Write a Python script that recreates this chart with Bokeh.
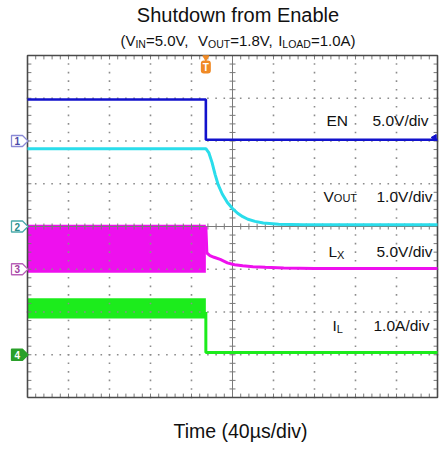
import numpy as np
from bokeh.plotting import figure
from bokeh.models import Range1d, BoxAnnotation
from bokeh.core.properties import value
from bokeh.embed import file_html
from bokeh.resources import INLINE

# ---------------- data read from the scope capture ----------------
# time axis: 10 divisions at 40 us/div (0 .. 400 us), 8 vertical divisions
t_edge = 174.0                                   # EN falling edge (us)

en_t = [0, 174, 174, 400]
en_v = [4.85, 4.85, 0.15, 0.15]                  # V   (5 V/div)

vout_t = [0, 174, 177, 180, 183, 186, 190, 195, 200, 205, 210, 215, 222, 230, 245, 270, 400]
vout_v = [1.82, 1.82, 1.72, 1.50, 1.22, 0.98, 0.76, 0.56, 0.42, 0.31, 0.23, 0.17, 0.12,
          0.08, 0.05, 0.04, 0.04]                # V   (1 V/div)

lx_band_t = [0, 174]
lx_band_lo = [-0.4, -0.4]                        # V   (5 V/div), switching envelope
lx_band_hi = [5.2, 5.2]
lx_t = [174, 175, 178, 182, 188, 195, 202, 210, 220, 232, 250, 280, 320, 400]
lx_v = [5.0, 1.9, 1.6, 1.4, 1.15, 0.75, 0.52, 0.40, 0.30, 0.22, 0.14, 0.10, 0.08, 0.08]

il_band_t = [0, 174]
il_band_lo = [0.85, 0.85]                        # A   (1 A/div), ripple envelope
il_band_hi = [1.32, 1.32]
il_t = [174, 174, 400]
il_v = [1.0, 0.05, 0.05]

# channel ground position (div from bottom) and units per division
ch_en = (6, 5.0)
ch_vout = (4, 1.0)
ch_lx = (3, 5.0)
ch_il = (1, 1.0)

title = "Shutdown from Enable"
xlabel = "Time (40\u00b5s/div)"

# ---------------- layout ----------------
W, H = 440, 446
FL, FR, FT, FB = 27, 437, 55, 397                 # scope frame in canvas px
XPX = (FR - FL) / 400.0
YPX = (FB - FT) / 8.0
FONT = "Liberation Sans"


def X(px):          # canvas px -> data x
    return (px - FL) / XPX


def Y(py):          # canvas px -> data y (div)
    return (FB - py) / YPX


def lv(vals, ch):
    off, sc = ch
    return [off + v / sc for v in vals]


p = figure(width=W, height=H, x_range=Range1d(-FL / XPX, (W - FL) / XPX),
           y_range=Range1d(-(H - FB) / YPX, 8 + FT / YPX),
           output_backend="svg", toolbar_location=None,
           x_axis_location=None, y_axis_location=None, min_border=0)
p.outline_line_color = None
p.xgrid.visible = False
p.ygrid.visible = False
p.background_fill_color = "white"

C_EN, C_VOUT, C_LX, C_IL = "#1212CC", "#2ADDEB", "#EE10EE", "#1CEC1C"

# switching envelopes
p.varea(x=lx_band_t, y1=lv(lx_band_lo, ch_lx), y2=lv(lx_band_hi, ch_lx), fill_color=C_LX)
p.varea(x=il_band_t, y1=lv(il_band_lo, ch_il), y2=lv(il_band_hi, ch_il), fill_color=C_IL)

# ---------------- graticule ----------------
divx = np.arange(0, 401, 40.0)
subx = np.arange(0, 400.01, 8.0)
divy = np.arange(0, 9, 1.0)
suby = np.arange(0, 8.001, 0.2)

dx, dy = [], []
for gx in divx[1:-1]:
    if gx == 200:
        continue
    dx += [gx] * len(suby)
    dy += list(suby)
for gy in divy[1:-1]:
    if gy == 4:
        continue
    dx += list(subx)
    dy += [gy] * len(subx)
p.scatter(dx, dy, marker="square", size=1.6, color="#8c8c8c", line_width=0)

GRAT = "#7a7a7a"
tx, ty = 3.0 / XPX, 3.0 / YPX
# center cross
p.segment(x0=[200], y0=[0], x1=[200], y1=[8], line_color=GRAT, line_width=1)
p.segment(x0=[0], y0=[4], x1=[400], y1=[4], line_color=GRAT, line_width=1)
p.segment(x0=[200 - tx] * len(suby), y0=list(suby), x1=[200 + tx] * len(suby), y1=list(suby),
          line_color=GRAT, line_width=1)
p.segment(x0=list(subx), y0=[4 - ty] * len(subx), x1=list(subx), y1=[4 + ty] * len(subx),
          line_color=GRAT, line_width=1)
# border ticks
p.segment(x0=[0] * len(suby), y0=list(suby), x1=[1.3 * tx] * len(suby), y1=list(suby),
          line_color=GRAT, line_width=1)
p.segment(x0=[400 - 1.3 * tx] * len(suby), y0=list(suby), x1=[400] * len(suby), y1=list(suby),
          line_color=GRAT, line_width=1)
p.segment(x0=list(subx), y0=[0] * len(subx), x1=list(subx), y1=[1.3 * ty] * len(subx),
          line_color=GRAT, line_width=1)
p.segment(x0=list(subx), y0=[8 - 1.3 * ty] * len(subx), x1=list(subx), y1=[8] * len(subx),
          line_color=GRAT, line_width=1)
# border
p.line([0, 400, 400, 0, 0], [0, 0, 8, 8, 0], line_color="#4a4a4a", line_width=1.6)

# ---------------- traces ----------------
p.line(lx_t, lv(lx_v, ch_lx), line_color=C_LX, line_width=3)
p.line(il_t, lv(il_v, ch_il), line_color=C_IL, line_width=3)
p.line(vout_t, lv(vout_v, ch_vout), line_color=C_VOUT, line_width=3)
p.line(en_t, lv(en_v, ch_en), line_color=C_EN, line_width=2.6)

# EN trigger-level arrow on right edge
p.scatter([X(434)], [Y(137)], marker="triangle", angle=np.pi / 2, size=6,
          color=C_EN)

# trigger position marker
ORANGE = "#F08A26"
p.scatter([t_edge], [Y(57)], marker="inverted_triangle", size=6, color=ORANGE)
p.add_layout(BoxAnnotation(left=t_edge - 5 / XPX, right=t_edge + 5 / XPX, top=Y(60), bottom=Y(73),
                           fill_color=ORANGE, fill_alpha=1, line_color=None,
                           border_radius=3, level="underlay"))
p.text([t_edge], [Y(66.5)], text=["T"], text_font=value(FONT), text_font_size="10px",
       text_font_style="bold", text_color="white", text_align="center", text_baseline="middle")

# channel tags on the left
tags = [("1", ch_en[0], "#8a8ad6", "white", "#4a4aa8"),
        ("2", ch_vout[0], "#4aaaaa", "white", "#2a8c8c"),
        ("3", ch_lx[0], "#b860b8", "white", "#a040a0"),
        ("4", ch_il[0], "#2aa02a", "#2aa02a", "white")]
h = 5.5 / YPX
for num, lvl, oc, fc, tc in tags:
    p.patch([X(11), X(22), X(27.5), X(22), X(11)], [lvl - h, lvl - h, lvl, lvl + h, lvl + h],
            fill_color=fc, line_color=oc, line_width=1.3)
    p.text([X(16.8)], [lvl], text=[num], text_font=value(FONT), text_font_size="10px",
           text_font_style="bold", text_color=tc, text_align="center", text_baseline="middle")

# ---------------- texts ----------------
CW = {'(': 333, ')': 333, 'V': 667, 'I': 278, 'N': 722, 'O': 778, 'U': 722, 'T': 611,
      'L': 556, 'A': 667, 'D': 722, '=': 584, '.': 278, ',': 278, ' ': 278, 'X': 667,
      'E': 667, '/': 278, 'd': 556, 'i': 222, 'v': 500}
MID = 0.33          # em distance between baseline and the 'middle' anchor


def tw(s, size):
    return sum(CW.get(c, 556) for c in s) * size / 1000.0


def put(s, px, base, size, align="left", color="#111111"):
    p.text([X(px)], [Y(base - MID * size)], text=[s], text_font=value(FONT),
           text_font_size=f"{size}px", text_align=align, text_baseline="middle",
           text_color=color)


def rich(pieces, px, base, align="left"):
    total = sum(tw(s, sz) for s, sz, d in pieces)
    x = px - total / 2 if align == "center" else px
    for s, sz, d in pieces:
        if s.strip():
            put(s, x, base + d, sz)
        x += tw(s, sz)


put(title, 237.5, 21, 20, align="center")
rich([("(V", 15, 0), ("IN", 10.5, 2), ("=5.0V,", 15, 0), ("  ", 15, 0), ("V", 15, 0),
      ("OUT", 10.5, 2), ("=1.8V,", 15, 0), (" ", 15, 0), ("I", 15, 0), ("LOAD", 10.5, 2),
      ("=1.0A)", 15, 0)], 237.5, 44.5, align="center")
put(xlabel, 240, 437, 19.5, align="center")

rich([("EN", 15.5, 0)], 326, 125)
rich([("5.0V/div", 15.5, 0)], 372, 125)
rich([("V", 15.5, 0), ("OUT", 11, 0)], 323, 201)
rich([("1.0V/div", 15.5, 0)], 376, 201)
rich([("L", 15.5, 0), ("X", 11, 2)], 328, 256)
rich([("5.0V/div", 15.5, 0)], 376, 256)
rich([("I", 15.5, 0), ("L", 11, 2)], 332, 330)
rich([("1.0A/div", 15.5, 0)], 373, 330)

open("out.html", "w").write(file_html(p, INLINE))
